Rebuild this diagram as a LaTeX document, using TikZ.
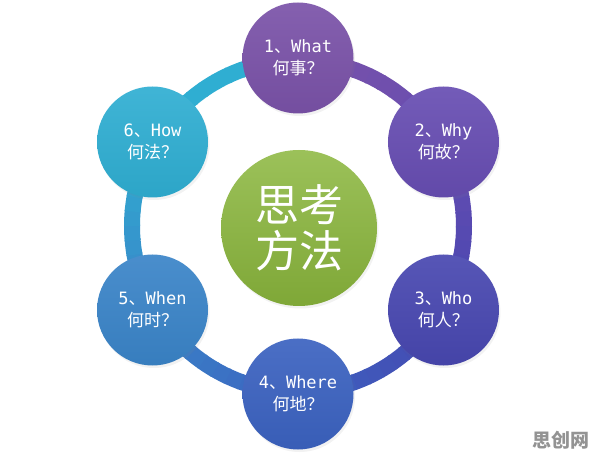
\documentclass[tikz,border=0pt]{standalone}
\usepackage{fontspec}
\newfontfamily\cjk{Noto Sans CJK SC}
\newfontfamily\halfw{DejaVu Sans Mono}
\usetikzlibrary{shadows}
\definecolor{cwhat}{HTML}{7A52A8}
\definecolor{cwhy}{HTML}{674DB2}
\definecolor{cwho}{HTML}{4847B0}
\definecolor{cwhere}{HTML}{3B62C0}
\definecolor{cwhen}{HTML}{3A84C8}
\definecolor{chow}{HTML}{2FAED2}
\definecolor{cthink}{HTML}{8AB63C}
\newcommand\qlbl[3]{{\halfw#1}{\cjk 、}{\halfw#2}\\{\cjk#3}}

\begin{document}
\begin{tikzpicture}[x=1pt,y=1pt,
  qball/.style={circle,minimum size=111pt,inner sep=0pt,text=white,align=center,
    font=\fontsize{17}{22}\selectfont,
    top color=#1!92!white,bottom color=#1!95!black,
    drop shadow={opacity=0.1,shadow xshift=1.5pt,shadow yshift=-2.5pt}},
  ring/.style={line width=16pt}]
\useasboundingbox (-298,-228) rectangle (298,226);
\fill[white] (-298,-228) rectangle (298,226);
\foreach \k/\colA/\colB in {1/cwhat/cwhy,2/cwhy/cwho,3/cwho/cwhere,4/cwhere/cwhen,5/cwhen/chow,6/chow/chow}
  \foreach \i in {0,...,11}{
    \pgfmathtruncatemacro\a{150-60*\k-5*\i}
    \pgfmathtruncatemacro\p{100-100*\i/11}
    \draw[ring,draw=\colA!\p!\colB](\a:166)arc[start angle=\a,end angle=\a-5.5,radius=166];
  }
\node[qball=cwhat] (what) at (90:168) {\qlbl{1}{What}{何事？}};
\node[qball=cwhy] (why) at (30:168) {\qlbl{2}{Why}{何故？}};
\node[qball=cwho] (who) at (-30:168) {\qlbl{3}{Who}{何人？}};
\node[qball=cwhere] (where) at (-90:168) {\qlbl{4}{Where}{何地？}};
\node[qball=cwhen] (when) at (-150:168) {\qlbl{5}{When}{何时？}};
\node[qball=chow] (how) at (150:168) {\qlbl{6}{How}{何法？}};
\node[circle,minimum size=156pt,inner sep=0pt,text=white,align=center,
  top color=cthink!85!white,bottom color=cthink!92!black,
  drop shadow={opacity=0.1,shadow xshift=1.5pt,shadow yshift=-2.5pt},
  font=\cjk\fontsize{44}{46}\selectfont] (think) at (1,-2) {思考\\方法};
\node[text=gray!85,font=\cjk\bfseries\fontsize{19}{19}\selectfont] (site) at (263,-214) {思创网};
\end{tikzpicture}
\end{document}
